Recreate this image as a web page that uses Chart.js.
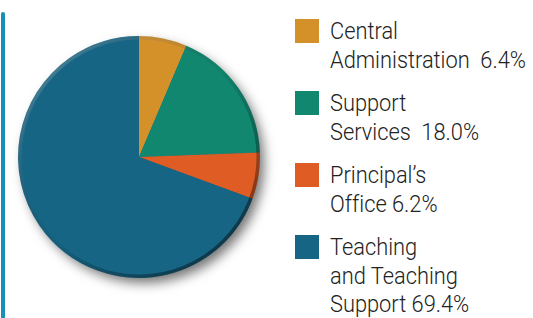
<!DOCTYPE html>
<html>
<head>
<meta charset="utf-8">
<script src="https://cdn.jsdelivr.net/npm/chart.js@4"></script>
<style>
  html, body { margin: 0; padding: 0; background: #fff; }
  #wrap { position: relative; width: 533px; height: 318px; overflow: hidden; }
  #rule { position: absolute; left: 1px; top: 12px; width: 4px; height: 310px; background: #1a8fb5; border-radius: 2px 2px 0 0; }
  #pieBox { position: absolute; left: 0; top: 0; width: 290px; height: 318px; }
  #legend { position: absolute; left: 0; top: 0; }
  .item { position: absolute; left: 295px; }
  .box { position: absolute; left: 0; top: 0; width: 24px; height: 24px; }
  .txt { position: absolute; left: 35px; top: -2px; white-space: pre; font-family: Roboto, "Noto Sans", sans-serif;
         font-weight: 300; font-size: 24px; line-height: 28.5px; color: #222; transform-origin: 0 0;
         font-variant-ligatures: none; }
</style>
</head>
<body>
<div id="wrap">
  <div id="rule"></div>
  <div id="pieBox"><canvas id="pie" width="290" height="318"></canvas></div>
  <div id="legend"></div>
</div>
<script>
const categories = ["Central Administration", "Support Services", "Principal’s Office", "Teaching and Teaching Support"];
const shares = [6.4, 18.0, 6.2, 69.4];
const labelLines = [["Central", "Administration"], ["Support", "Services"], ["Principal’s", "Office"], ["Teaching", "and Teaching", "Support"]];
const valueGaps = ["  ", "  ", " ", " "];
const colors = ["#d4912a", "#12876f", "#df5d24", "#176584"];

// soft drop shadow + rim shading behind/over the pie
const pieShade = {
  id: 'pieShade',
  beforeDatasetsDraw(chart) {
    const arc = chart.getDatasetMeta(0).data[0];
    if (!arc) return;
    const ctx = chart.ctx;
    ctx.save();
    ctx.shadowColor = 'rgba(0,0,0,0.55)';
    ctx.shadowBlur = 12;
    ctx.shadowOffsetX = 5;
    ctx.shadowOffsetY = 6;
    ctx.beginPath();
    ctx.arc(arc.x, arc.y, arc.outerRadius - 1, 0, Math.PI * 2);
    ctx.fillStyle = '#176584';
    ctx.fill();
    ctx.restore();
  },
  afterDatasetsDraw(chart) {
    const arc = chart.getDatasetMeta(0).data[0];
    if (!arc) return;
    const ctx = chart.ctx;
    const r = arc.outerRadius;
    ctx.save();
    ctx.beginPath();
    ctx.arc(arc.x, arc.y, r, 0, Math.PI * 2);
    ctx.clip();
    const g = ctx.createLinearGradient(arc.x - r, arc.y - r, arc.x + r, arc.y + r);
    g.addColorStop(0, 'rgba(255,255,255,0.35)');
    g.addColorStop(0.5, 'rgba(0,0,0,0.05)');
    g.addColorStop(1, 'rgba(0,0,0,0.6)');
    ctx.strokeStyle = g;
    ctx.lineWidth = 5;
    ctx.beginPath();
    ctx.arc(arc.x, arc.y, r - 1, 0, Math.PI * 2);
    ctx.stroke();
    ctx.restore();
  }
};

new Chart("pie", {
  type: "pie",
  data: {
    labels: categories,
    datasets: [{
      data: shares,
      backgroundColor: colors,
      borderWidth: 0
    }]
  },
  options: {
    responsive: false,
    animation: false,
    layout: { padding: { left: 18, right: 30, top: 36, bottom: 40 } },
    plugins: { legend: { display: false }, tooltip: { enabled: false } }
  },
  plugins: [pieShade]
});

// html legend
const legend = document.getElementById('legend');
const tops = [19, 91, 163, 235];
categories.forEach((c, i) => {
  const item = document.createElement('div');
  item.className = 'item';
  item.style.top = tops[i] + 'px';
  const box = document.createElement('div');
  box.className = 'box';
  box.style.background = colors[i];
  const txt = document.createElement('div');
  txt.className = 'txt';
  const lines = labelLines[i].slice();
  lines[lines.length - 1] += valueGaps[i] + shares[i].toFixed(1) + '%';
  txt.textContent = lines.join('\n');
  item.appendChild(box);
  item.appendChild(txt);
  legend.appendChild(item);
});
// squeeze text to the condensed look of the original
const probe = document.createElement('span');
probe.style.cssText = 'font-family:Roboto,"Noto Sans",sans-serif;font-weight:300;font-size:24px;white-space:pre;position:absolute;visibility:hidden';
probe.textContent = 'Administration  6.4%';
document.body.appendChild(probe);
const k = 196 / probe.getBoundingClientRect().width;
probe.remove();
legend.querySelectorAll('.txt').forEach(t => t.style.transform = 'scaleX(' + k.toFixed(3) + ')');
</script>
</body>
</html>
